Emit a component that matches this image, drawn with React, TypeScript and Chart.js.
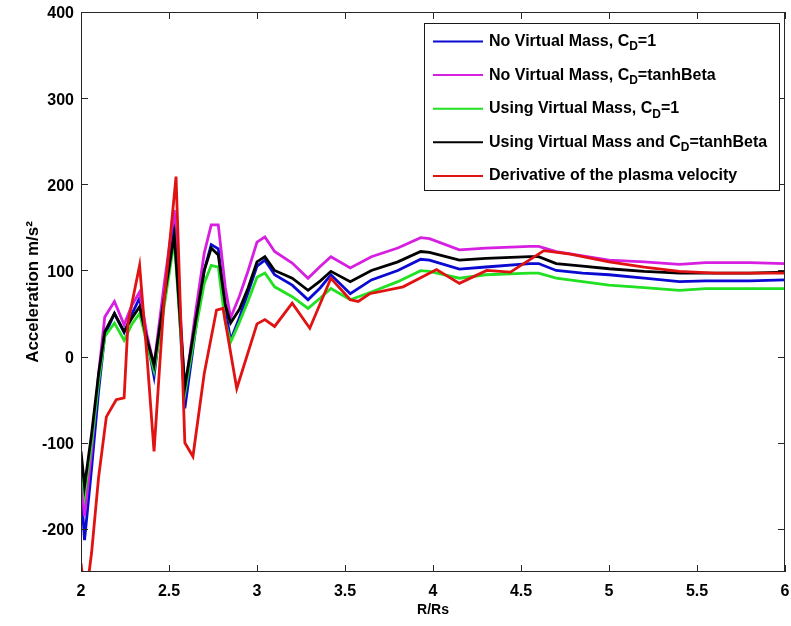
import React, { useEffect, useRef } from "react";
import { Chart, registerables } from "chart.js";

Chart.register(...registerables);

// ---- data ----
const xModel = [
  2.0, 2.02, 2.06, 2.1, 2.135, 2.19, 2.245, 2.29, 2.333, 2.375, 2.415, 2.47, 2.53, 2.59, 2.65, 2.7,
  2.74, 2.78, 2.82, 2.85, 2.9, 2.95, 3.0, 3.045, 3.1, 3.2, 3.29, 3.36, 3.42, 3.53, 3.65, 3.8, 3.93,
  3.98, 4.15, 4.3, 4.55, 4.6, 4.7, 4.85, 5.0, 5.2, 5.4, 5.55, 5.8, 6.0,
];
const noVmCd1 = [
  -150, -213, -130, -40, 25, 50, 28, 50, 68, 20, -23, 70, 160, -60, 30, 100,
  130, 125, 55, 19, 45, 75, 105, 112, 95, 83, 66, 80, 95, 73, 89, 100, 113,
  112, 101.5, 104, 108, 108, 100, 97, 95, 91, 87, 88, 88, 89,
];
const noVmTanh = [
  -140, -185, -110, -20, 46, 64, 37, 60, 75, 25, -10, 80, 170, -40, 50, 120,
  153, 153, 80, 45, 70, 100, 133, 139, 122, 108.6, 91, 105, 116, 103, 116, 126, 138,
  137, 124, 126, 128, 128, 122, 117, 112, 110, 107, 109, 109, 108,
];
const vmCd1 = [
  -120, -160, -100, -30, 23, 39, 19, 38, 50, 15, -16, 55, 135, -43, 30, 85,
  106, 104, 40, 17, 40, 65, 92, 97, 81, 69.5, 56, 68, 79, 66, 75, 87, 99.7,
  99, 91, 95, 97, 97, 91, 87, 83, 80, 77, 79, 79, 79,
];
const vmTanh = [
  -110, -150, -90, -20, 29, 50, 29, 45, 58, 20, -10, 65, 141, -35, 40, 100,
  126, 118, 60, 39, 55, 80, 110, 116, 100, 91, 77, 88, 99, 87, 100, 110, 122,
  121, 112, 114, 116, 116, 108, 105, 102, 99, 97, 97, 97, 98,
];
const xDeriv = [
  2.0, 2.02, 2.04, 2.06, 2.1, 2.144, 2.2, 2.245, 2.267, 2.333, 2.375, 2.415, 2.47, 2.54, 2.59,
  2.636, 2.7, 2.77, 2.807, 2.885, 3.0, 3.045, 3.1, 3.2, 3.3, 3.42, 3.53, 3.575, 3.64, 3.83,
  4.02, 4.15, 4.305, 4.44, 4.63, 4.78, 5.0, 5.2, 5.4, 5.6, 6.0,
];
const derivPlasma = [
  -240, -275, -260, -228, -140, -70, -50, -48, 39, 106, 0, -110, 60, 209, -100,
  -116, -20, 54, 56, -37, 38, 43, 35, 62, 33, 91, 66, 64, 73, 81,
  101, 85, 100, 98, 123, 119, 110, 104, 99, 97, 97,
];

const xTicks = [2, 2.5, 3, 3.5, 4, 4.5, 5, 5.5, 6];
const yTicks = [-200, -100, 0, 100, 200, 300, 400];

const seriesLabels = [
  "No Virtual Mass, C_{D}=1",
  "No Virtual Mass, C_{D}=tanhBeta",
  "Using Virtual Mass, C_{D}=1",
  "Using Virtual Mass and C_{D}=tanhBeta",
  "Derivative of the plasma velocity",
];
const seriesColors = ["#0a0ad2", "#d61fe0", "#22e022", "#000000", "#e01212"];

const FONT = "'Liberation Sans', Arial, Helvetica, sans-serif";

function toPoints(xs: number[], ys: number[]) {
  return xs.map((x, i) => ({ x, y: ys[i] }));
}

function drawRich(ctx: CanvasRenderingContext2D, text: string, x: number, y: number, size: number) {
  const parts = text.split(/_\{([^}]*)\}/);
  let cx = x;
  parts.forEach((p, i) => {
    const sub = i % 2 === 1;
    ctx.font = `bold ${sub ? Math.round(size * 0.75) : size}px ${FONT}`;
    ctx.fillText(p, cx, sub ? y + size * 0.35 : y);
    cx += ctx.measureText(p).width;
  });
}

const framePlugin = {
  id: "frameAndLegend",
  afterDatasetsDraw(chart: any) {
    const { ctx, chartArea: a, scales } = chart;
    ctx.save();
    ctx.strokeStyle = "#262626";
    ctx.lineWidth = 1;
    ctx.strokeRect(a.left + 0.5, a.top + 0.5, a.right - a.left - 1, a.bottom - a.top - 1);
    const L = 7;
    ctx.beginPath();
    for (const v of xTicks) {
      const px = Math.round(scales.x.getPixelForValue(v)) + 0.5;
      ctx.moveTo(px, a.bottom);
      ctx.lineTo(px, a.bottom - L);
      ctx.moveTo(px, a.top);
      ctx.lineTo(px, a.top + L);
    }
    for (const v of yTicks) {
      const py = Math.round(scales.y.getPixelForValue(v)) + 0.5;
      ctx.moveTo(a.left, py);
      ctx.lineTo(a.left + L, py);
      ctx.moveTo(a.right, py);
      ctx.lineTo(a.right - L, py);
    }
    ctx.stroke();

    // legend box
    const bx = a.left + 343;
    const by = a.top + 11;
    const bw = 355;
    const bh = 167;
    ctx.fillStyle = "#ffffff";
    ctx.fillRect(bx, by, bw, bh);
    ctx.strokeStyle = "#1a1a1a";
    ctx.strokeRect(bx + 0.5, by + 0.5, bw, bh);
    const ds = chart.data.datasets;
    ds.forEach((d: any, i: number) => {
      const cy = by + 18.5 + i * 33.6;
      ctx.strokeStyle = d.borderColor;
      ctx.lineWidth = 2;
      ctx.beginPath();
      ctx.moveTo(bx + 9, cy);
      ctx.lineTo(bx + 59, cy);
      ctx.stroke();
      ctx.fillStyle = "#000";
      ctx.textBaseline = "middle";
      ctx.textAlign = "left";
      drawRich(ctx, d.label, bx + 65, cy, 16);
    });
    ctx.restore();
  },
};

export default function App() {
  const ref = useRef<HTMLCanvasElement>(null);
  useEffect(() => {
    if (!ref.current) return;
    const series = [
      { xs: xModel, ys: noVmCd1 },
      { xs: xModel, ys: noVmTanh },
      { xs: xModel, ys: vmCd1 },
      { xs: xModel, ys: vmTanh },
      { xs: xDeriv, ys: derivPlasma },
    ];
    const chart = new Chart(ref.current, {
      type: "line",
      data: {
        datasets: series.map((s, i) => ({
          label: seriesLabels[i],
          data: toPoints(s.xs, s.ys),
          borderColor: seriesColors[i],
          backgroundColor: seriesColors[i],
          borderWidth: 2.8,
          pointRadius: 0,
          tension: 0,
          fill: false,
          order: 5 - i,
        })),
      },
      options: {
        responsive: false,
        animation: false,
        layout: { padding: { top: 12, right: 6, left: 0, bottom: 0 } },
        plugins: { legend: { display: false }, tooltip: { enabled: false } },
        scales: {
          x: {
            type: "linear",
            min: 2,
            max: 6,
            afterBuildTicks: (s: any) => {
              s.ticks = xTicks.map((v) => ({ value: v }));
            },
            afterFit: (s: any) => {
              s.height = 54;
              s.paddingLeft = 0;
              s.paddingRight = 0;
            },
            grid: { display: false, drawTicks: false },
            border: { display: false },
            ticks: {
              color: "#000",
              padding: 10,
              maxRotation: 0,
              font: { family: FONT, size: 16, weight: "bold" },
              callback: (v: any) => String(v),
            },
            title: {
              display: true,
              text: "R/Rs",
              color: "#000",
              font: { family: FONT, size: 14, weight: "bold" },
              padding: { top: 0, bottom: 7 },
            },
          },
          y: {
            type: "linear",
            min: -250,
            max: 400,
            afterBuildTicks: (s: any) => {
              s.ticks = yTicks.map((v) => ({ value: v }));
            },
            afterFit: (s: any) => {
              s.width = 81;
              s.paddingTop = 0;
              s.paddingBottom = 0;
            },
            grid: { display: false, drawTicks: false },
            border: { display: false },
            ticks: {
              color: "#000",
              padding: 7,
              labelOffset: 2,
              font: { family: FONT, size: 16, weight: "bold" },
              callback: (v: any) => String(v),
            },
            title: {
              display: true,
              text: "Acceleration m/s²",
              color: "#000",
              font: { family: FONT, size: 17, weight: "bold" },
              padding: { top: 23, bottom: 0 },
            },
          },
        },
      },
      plugins: [framePlugin],
    });
    return () => chart.destroy();
  }, []);
  return (
    <div style={{ position: "absolute", left: 0, top: 0, width: 791, height: 626, background: "#fff" }}>
      <canvas ref={ref} width={791} height={626} />
    </div>
  );
}
